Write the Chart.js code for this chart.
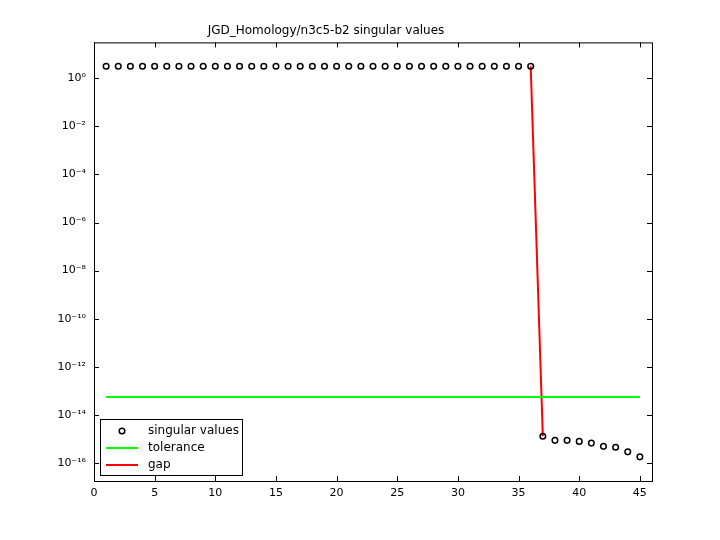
<!DOCTYPE html>
<html><head><meta charset="utf-8">
<script src="https://cdn.jsdelivr.net/npm/chart.js@4.4.0/dist/chart.umd.min.js"></script>
<style>html,body{margin:0;background:#fff}#w{width:720px;height:540px}</style></head>
<body><div id="w"><canvas id="c"></canvas></div>
<script>
const titleText = 'JGD_Homology/n3c5-b2 singular values';
const indices = [1,2,3,4,5,6,7,8,9,10,11,12,13,14,15,16,17,18,19,20,21,22,23,24,25,26,27,28,29,30,31,32,33,34,35,36,37,38,39,40,41,42,43,44,45];
const singularValues = [3.16,3.16,3.16,3.16,3.16,3.16,3.16,3.16,3.16,3.16,3.16,3.16,3.16,3.16,3.16,3.16,3.16,3.16,3.16,3.16,3.16,3.16,3.16,3.16,3.16,3.16,3.16,3.16,3.16,3.16,3.16,3.16,3.16,3.16,3.16,3.16,
  1.3e-15,8.7e-16,8.7e-16,7.9e-16,6.7e-16,4.9e-16,4.5e-16,2.9e-16,1.8e-16];
const toleranceValue = 5.5e-14;
const toleranceX = [1,45];
const gapX = [36,37];
const xTicks = [0,5,10,15,20,25,30,35,40,45];
const yExponents = [-16,-14,-12,-10,-8,-6,-4,-2,0];
const legendLabels = ['singular values','tolerance','gap'];
const sup = {'-':'⁻','0':'⁰','1':'¹','2':'²','3':'³','4':'⁴','5':'⁵','6':'⁶','7':'⁷','8':'⁸','9':'⁹'};
const supStr = n => String(n).split('').map(c=>sup[c]).join('');

const legendPlugin = {
  id:'boxLegend',
  afterDraw(chart){
    const ctx=chart.ctx, a=chart.chartArea;
    const x=a.left+6, y=a.bottom-62, w=142, h=56;
    ctx.save();
    ctx.fillStyle='#fff'; ctx.fillRect(x,y,w,h);
    ctx.strokeStyle='#000'; ctx.lineWidth=1; ctx.strokeRect(x+0.5,y+0.5,w,h);
    ctx.font='12px "DejaVu Sans", sans-serif'; ctx.fillStyle='#000'; ctx.textBaseline='middle';
    const rows=[y+12,y+29,y+46];
    ctx.beginPath(); ctx.arc(x+22,rows[0],2.8,0,Math.PI*2); ctx.lineWidth=1.5; ctx.stroke();
    ctx.strokeStyle='#00ff00'; ctx.lineWidth=2; ctx.beginPath(); ctx.moveTo(x+6,rows[1]); ctx.lineTo(x+38,rows[1]); ctx.stroke();
    ctx.strokeStyle='#ff0000'; ctx.beginPath(); ctx.moveTo(x+6,rows[2]); ctx.lineTo(x+38,rows[2]); ctx.stroke();
    legendLabels.forEach((t,i)=>ctx.fillText(t,x+48,rows[i]));
    ctx.restore();
  }
};
const framePlugin = {
  id:'frame',
  afterDraw(chart){
    const ctx=chart.ctx,a=chart.chartArea,xs=chart.scales.x,ys=chart.scales.y;
    ctx.save(); ctx.strokeStyle='#000'; ctx.lineWidth=1;
    ctx.strokeRect(a.left+0.5,a.top+0.5,a.right-a.left,a.bottom-a.top);
    ctx.beginPath();
    xTicks.forEach(v=>{const p=Math.round(xs.getPixelForValue(v))+0.5;
      ctx.moveTo(p,a.bottom);ctx.lineTo(p,a.bottom-5);ctx.moveTo(p,a.top);ctx.lineTo(p,a.top+5);});
    yExponents.forEach(e=>{const p=Math.round(ys.getPixelForValue(Math.pow(10,e)))+0.5;
      ctx.moveTo(a.left,p);ctx.lineTo(a.left+5,p);ctx.moveTo(a.right,p);ctx.lineTo(a.right-5,p);});
    ctx.stroke();
    ctx.restore();
  }
};

new Chart(document.getElementById('c'),{
  type:'scatter',
  data:{datasets:[
    {label:legendLabels[0],data:indices.map((x,i)=>({x,y:singularValues[i]})),showLine:false,
     pointStyle:'circle',pointRadius:2.8,borderColor:'#000',backgroundColor:'rgba(0,0,0,0)',borderWidth:1.5},
    {label:legendLabels[1],data:toleranceX.map(x=>({x,y:toleranceValue})),showLine:true,pointRadius:0,borderColor:'#00ff00',borderWidth:2},
    {label:legendLabels[2],data:gapX.map(x=>({x,y:singularValues[x-1]})),showLine:true,pointRadius:0,borderColor:'#ff0000',borderWidth:2}
  ]},
  options:{
    responsive:true,maintainAspectRatio:false,animation:false,
    layout:{padding:{left:0,right:68,top:0,bottom:0}},
    plugins:{legend:{display:false},tooltip:{enabled:false},
      title:{display:true,text:titleText,color:'#000',font:{family:'"DejaVu Sans", sans-serif',size:12,weight:'normal'},padding:{top:24,bottom:4}}},
    scales:{
      x:{type:'linear',min:0,max:46,grid:{display:false,drawTicks:false},border:{color:'#000'},
        afterBuildTicks(s){s.ticks=xTicks.map(v=>({value:v}));},
        ticks:{color:'#000',font:{family:'"DejaVu Sans", sans-serif',size:11},padding:6,maxRotation:0},
        afterFit(s){s.height=59;}},
      y:{type:'logarithmic',min:Math.pow(10,-16.75),max:Math.pow(10,1.49),grid:{display:false,drawTicks:false},border:{color:'#000'},
        afterBuildTicks(s){s.ticks=yExponents.map(e=>({value:Math.pow(10,e)}));},
        ticks:{color:'#000',font:{family:'"DejaVu Sans", sans-serif',size:11},padding:8,
          callback:(v)=>'10'+supStr(Math.round(Math.log10(v)))},
        afterFit(s){s.width=94;}}
    }
  },
  plugins:[legendPlugin,framePlugin]
});
</script></body></html>
